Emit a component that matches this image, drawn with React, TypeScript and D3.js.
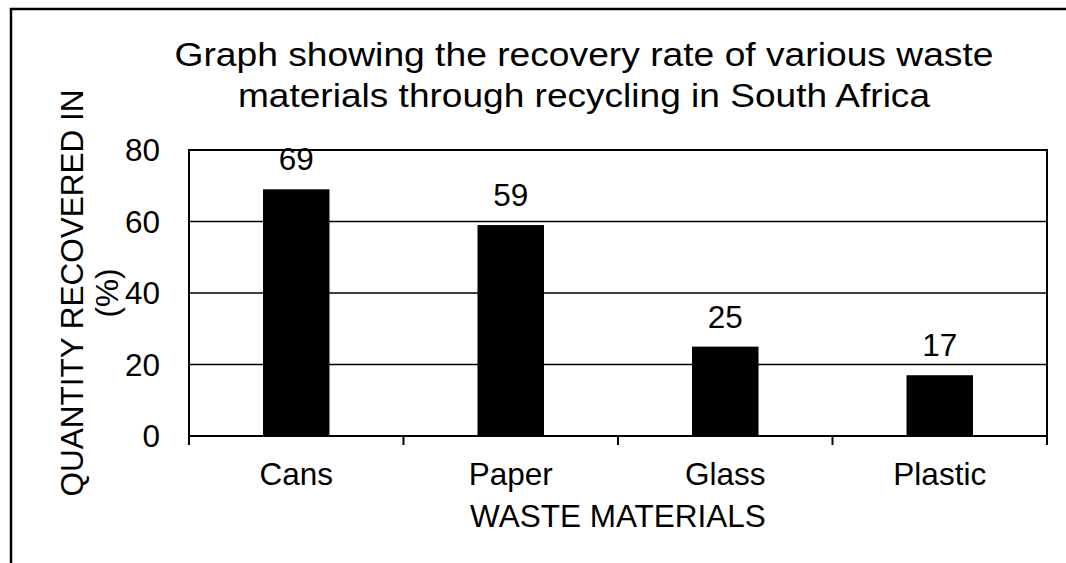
import React from "react";
import * as d3 from "d3";

const categories = ["Cans", "Paper", "Glass", "Plastic"];
const values = [69, 59, 25, 17];
const yTicks = [0, 20, 40, 60, 80];
const titleLines = [
  "Graph showing the recovery rate of various waste",
  "materials through recycling in South Africa",
];
const titleWidths = [819, 692];
const yLabelLines = ["QUANTITY RECOVERED IN", "(%)"];
const xLabel = "WASTE MATERIALS";

const W = 1066;
const H = 563;
const plot = { left: 189, right: 1047, top: 150, bottom: 436 };
const FONT = "'Liberation Sans', Arial, sans-serif";
const FS = 31.5;

export default function App() {
  const x = d3
    .scaleBand<string>()
    .domain(categories)
    .range([plot.left, plot.right])
    .paddingInner(0.69)
    .paddingOuter(0.345);
  const xb = d3.scaleBand<string>().domain(categories).range([plot.left, plot.right]);
  const y = d3.scaleLinear().domain([0, 80]).range([plot.bottom, plot.top]);
  const cx = (plot.left + plot.right) / 2;
  const cy = (plot.top + plot.bottom) / 2;
  const boundaries = [...categories.map((c) => xb(c)!), plot.right];

  return (
    <svg
      width={W}
      height={H}
      style={{ position: "absolute", left: 0, top: 0, background: "#fff" }}
      fontFamily={FONT}
    >
      <rect x={0} y={0} width={W} height={H} fill="#fff" />
      <rect x={11} y={9} width={1200} height={700} fill="none" stroke="#000" strokeWidth={2.5} />
      {titleLines.map((t, i) => (
        <text
          key={i}
          x={584}
          y={66 + i * 41}
          textAnchor="middle"
          fontSize={34}
          textLength={titleWidths[i]}
          lengthAdjust="spacingAndGlyphs"
          fill="#000"
        >
          {t}
        </text>
      ))}
      {/* gridlines */}
      {yTicks
        .filter((t) => t !== 0 && t !== 80)
        .map((t) => (
          <line key={t} x1={plot.left} x2={plot.right} y1={y(t)} y2={y(t)} stroke="#000" strokeWidth={1.3} />
        ))}
      {/* bars */}
      {categories.map((c, i) => (
        <rect key={c} x={x(c)} y={y(values[i])} width={x.bandwidth()} height={y(0) - y(values[i])} fill="#000" />
      ))}
      {/* plot border */}
      <rect
        x={plot.left}
        y={plot.top}
        width={plot.right - plot.left}
        height={plot.bottom - plot.top}
        fill="none"
        stroke="#000"
        strokeWidth={2}
      />
      {/* x ticks */}
      {boundaries.map((b, i) => (
        <line key={i} x1={b} x2={b} y1={plot.bottom} y2={plot.bottom + 9} stroke="#000" strokeWidth={2} />
      ))}
      {/* y tick labels */}
      {yTicks.map((t) => (
        <text key={t} x={160} y={y(t)} dy="0.36em" textAnchor="end" fontSize={FS} fill="#000">
          {t}
        </text>
      ))}
      {/* value labels */}
      {categories.map((c, i) => (
        <text
          key={c}
          x={xb(c)! + xb.bandwidth() / 2}
          y={y(values[i]) - 19}
          textAnchor="middle"
          fontSize={FS}
          fill="#000"
        >
          {values[i]}
        </text>
      ))}
      {/* category labels */}
      {categories.map((c) => (
        <text key={c} x={xb(c)! + xb.bandwidth() / 2} y={485} textAnchor="middle" fontSize={FS} fill="#000">
          {c}
        </text>
      ))}
      <text x={cx} y={527} textAnchor="middle" fontSize={FS} fill="#000">
        {xLabel}
      </text>
      {yLabelLines.map((t, i) => (
        <text
          key={i}
          transform={`translate(${83 + i * 35},${cy}) rotate(-90)`}
          textAnchor="middle"
          fontSize={FS}
          fill="#000"
        >
          {t}
        </text>
      ))}
    </svg>
  );
}
